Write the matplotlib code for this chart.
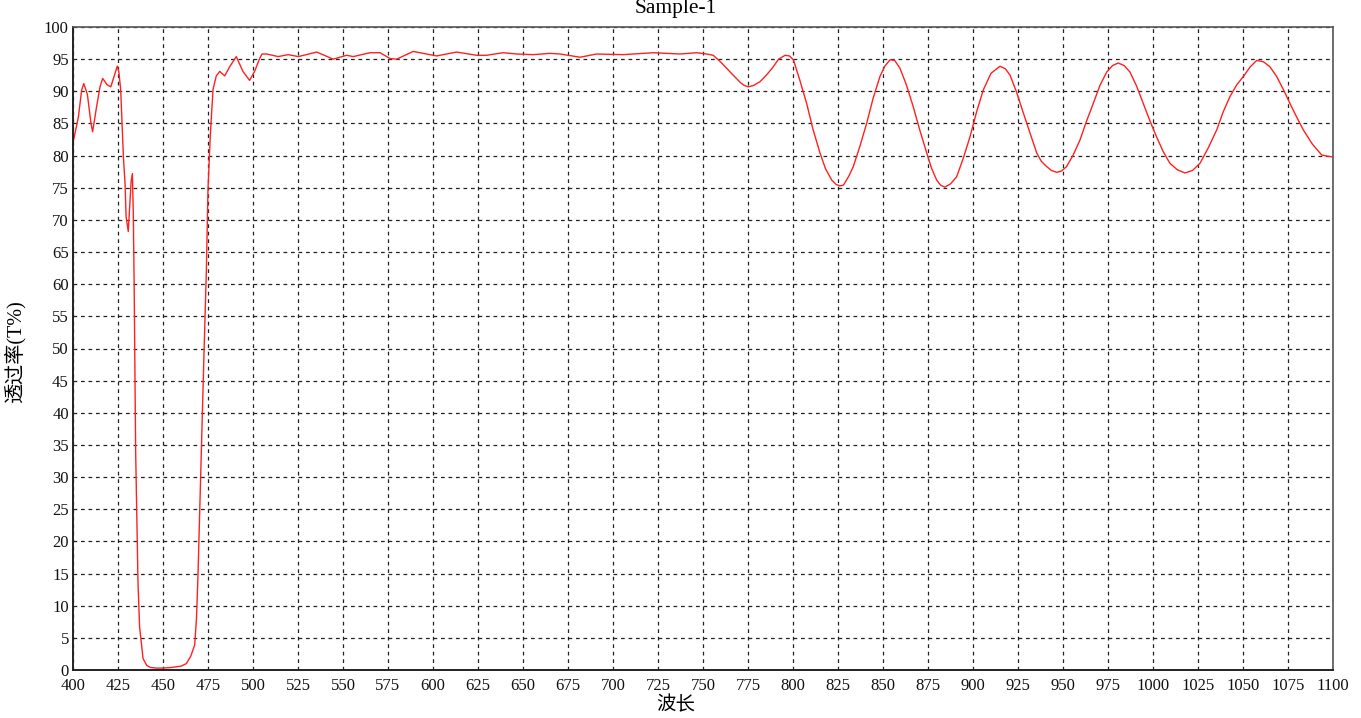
import matplotlib
matplotlib.use("Agg")
import matplotlib.pyplot as plt

# 透过率曲线
wavelength = [
    400, 403, 404.8, 406, 408, 410, 410.9, 413.1, 415, 416.5, 419, 421, 423, 424.6,
    425.5, 426.5, 428, 428.9, 429.5, 430.7, 431.5, 432.3, 433, 433.5, 434, 434.8,
    436.1, 437, 438.9, 441, 443, 446, 450, 455, 460, 463, 465.5, 467.6, 468.6,
    469.4, 471.3, 472.8, 474.1, 475, 476.3, 477.8, 479.6, 481.5, 484.3, 487, 490.7,
    494.4, 498.1, 500.9, 503.7, 505, 507.6, 514, 519.5, 525.2, 535.4, 544.6, 552,
    555.7, 565, 570.6, 576.1, 579.8, 589, 594.6, 602, 613.1, 624.3, 629.8, 639,
    646.4, 655.7, 665, 670.6, 681.7, 690.9, 705.7, 722.4, 737.2, 746.5, 752, 755.7,
    760, 766.8, 771, 773, 775.2, 778, 781.7, 785.5, 789, 792, 795.6, 798, 800.2,
    803.5, 807.6, 811, 815, 818, 821.5, 824, 826.1, 828, 831, 833.5, 837, 840.9,
    844.5, 848.3, 851, 853.9, 856.5, 859.4, 863, 866.8, 870.5, 874.3, 877, 879.8,
    882, 884.4, 887.5, 890.9, 894.5, 898.3, 902, 905.7, 910, 915, 918, 920.6,
    924.3, 928, 931.8, 935.4, 938, 940.9, 943.5, 946.5, 949.2, 952, 955.5, 959.4,
    963, 966.8, 970.5, 974.3, 977.5, 980.7, 984, 987.2, 990.9, 994.6, 998.3, 1002,
    1005.7, 1009.4, 1013.5, 1017.8, 1022, 1026.1, 1030.7, 1035.4, 1039, 1042.8,
    1046.5, 1050.2, 1054, 1057.6, 1061.3, 1065, 1068.7, 1072.4, 1076.1, 1079.8,
    1083.5, 1088.5, 1093.7, 1097, 1100,
]
transmittance = [
    82.0, 86.0, 90.2, 91.2, 89.5, 85.0, 83.7, 87.6, 90.7, 92.0, 91.0, 90.7, 92.5, 93.9,
    93.0, 90.2, 79.8, 75.7, 70.5, 68.2, 72.0, 76.0, 77.2, 71.0, 59.4, 34.1,
    13.7, 6.7, 1.8, 0.7, 0.4, 0.3, 0.3, 0.4, 0.6, 1.0, 2.2, 3.9, 8.0,
    14.4, 34.0, 49.5, 62.2, 74.8, 83.3, 90.3, 92.4, 93.1, 92.4, 93.8, 95.4,
    93.1, 91.7, 93.1, 95.1, 95.8, 95.8, 95.4, 95.7, 95.4, 96.1, 95.0, 95.6,
    95.4, 96.0, 96.0, 95.1, 95.0, 96.2, 95.9, 95.5, 96.1, 95.6, 95.6, 96.0,
    95.8, 95.7, 95.9, 95.8, 95.3, 95.8, 95.7, 96.0, 95.8, 96.0, 95.8, 95.6,
    94.5, 92.5, 91.3, 90.9, 90.7, 90.9, 91.5, 92.6, 93.8, 95.0, 95.6, 95.5, 94.9,
    92.0, 88.1, 84.2, 80.4, 78.0, 76.2, 75.5, 75.3, 75.4, 76.8, 78.3, 81.3, 85.0,
    88.9, 92.3, 93.9, 94.9, 94.8, 93.6, 91.0, 87.6, 83.9, 80.4, 78.0, 76.2,
    75.4, 75.1, 75.6, 76.7, 79.5, 82.9, 86.8, 90.2, 92.8, 93.9, 93.5, 92.5,
    89.8, 86.6, 83.4, 80.4, 79.1, 78.3, 77.7, 77.4, 77.6, 78.3, 80.0, 82.4,
    85.3, 88.1, 90.9, 93.0, 94.0, 94.4, 94.0, 93.0, 90.8, 88.1, 85.4, 82.9,
    80.6, 78.8, 77.8, 77.3, 77.7, 78.8, 81.2, 84.0, 86.8, 89.2,
    91.0, 92.3, 93.8, 94.8, 94.6, 93.8, 92.3, 90.3, 88.1, 86.0,
    84.0, 81.8, 80.1, 79.9, 79.8,
]

x_ticks = list(range(400, 1101, 25))
y_ticks = list(range(0, 101, 5))

fonts = ['Liberation Serif', 'Noto Sans CJK SC', 'DejaVu Sans']
plt.rcParams['font.family'] = fonts

W, H = 1361, 718
fig = plt.figure(figsize=(W / 100, H / 100), dpi=100)
ax = fig.add_axes([73 / W, (H - 670) / H, 1260 / W, 643 / H])

ax.plot(wavelength, transmittance, color='#ff2020', linewidth=1.0)

ax.set_xlim(400, 1100)
ax.set_ylim(0, 100)
ax.set_xticks(x_ticks)
ax.set_yticks(y_ticks)
ax.tick_params(axis='both', length=0, labelsize=12, colors='#111111')
ax.tick_params(axis='x', pad=6)
ax.tick_params(axis='y', pad=3)

ax.grid(True, color='#222222', linestyle=(0, (3, 3)), linewidth=0.9)
ax.set_axisbelow(True)
for side in ['left', 'bottom']:
    ax.spines[side].set_color('#222222')
    ax.spines[side].set_linewidth(1.4)
for side in ['top', 'right']:
    ax.spines[side].set_color('#555555')
    ax.spines[side].set_linewidth(1.2)

fig.text(676 / W, 1 - 13 / H, 'Sample-1', ha='center', va='baseline', fontsize=15.5)
fig.text(676 / W, 1 - 705 / H, '波长', ha='center', va='center', fontsize=14)
fig.text(15 / W, 1 - 352 / H, '透过率(T%)', ha='center', va='center',
         rotation=90, fontsize=14.5)

fig.savefig('out.png', dpi=100, facecolor='white')
